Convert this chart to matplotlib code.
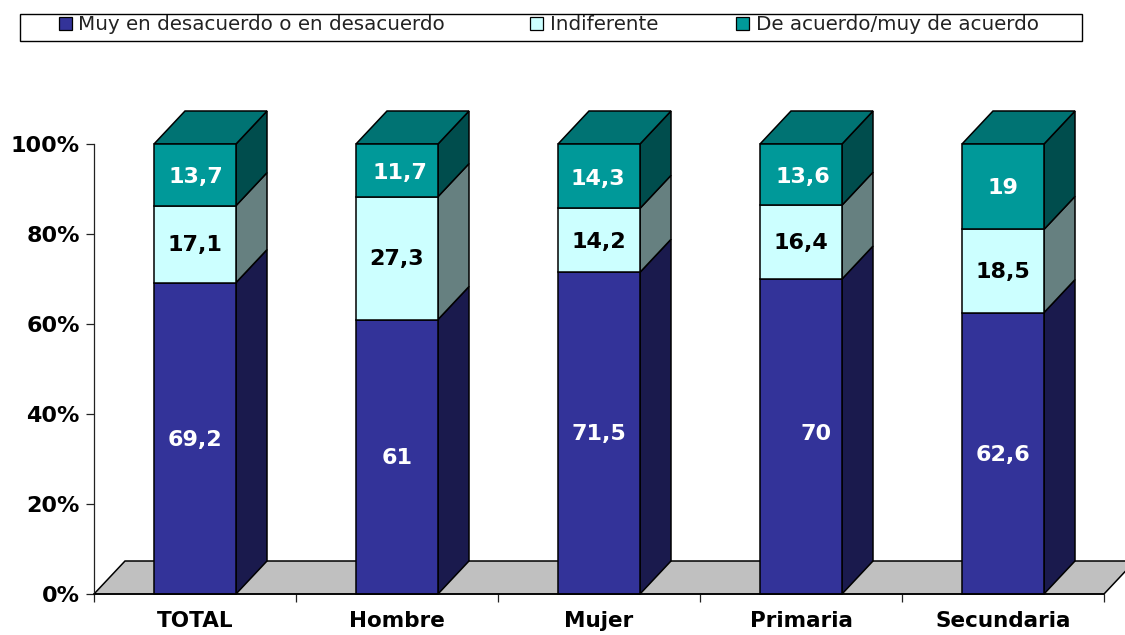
import matplotlib
matplotlib.use("Agg")
import matplotlib.pyplot as plt
from matplotlib.patches import Rectangle, Polygon

categories = ["TOTAL", "Hombre", "Mujer", "Primaria", "Secundaria"]
series_names = ["Muy en desacuerdo o en desacuerdo", "Indiferente", "De acuerdo/muy de acuerdo"]
desacuerdo = [69.2, 61, 71.5, 70, 62.6]
indiferente = [17.1, 27.3, 14.2, 16.4, 18.5]
acuerdo = [13.7, 11.7, 14.3, 13.6, 19]
labels_desacuerdo = ["69,2", "61", "71,5", "70", "62,6"]
labels_indiferente = ["17,1", "27,3", "14,2", "16,4", "18,5"]
labels_acuerdo = ["13,7", "11,7", "14,3", "13,6", "19"]
y_ticks = [0, 20, 40, 60, 80, 100]

W, H = 1125, 635
plt.rcParams["font.family"] = ["DejaVu Sans"]
fig = plt.figure(figsize=(W / 100, H / 100), dpi=100)
ax = fig.add_axes([94 / W, 1 - 594 / H, (1104 - 94) / W, (594 - 144) / H])
ax.set_xlim(0, 5)
ax.set_ylim(0, 100)

DX = 31 / 202
DY = 33 / 4.5
BW = 82 / 202
LW = 1.1
faces = ["#333399", "#CCFFFF", "#009999"]
sides = ["#1A1A4D", "#668080", "#004D4D"]
top_col = "#007373"
text_cols = ["white", "black", "white"]
# hand-placed label nudges (series index, category index) -> pixels right, pixels up
nudges = {(0, 3): (15, 4), (2, 0): (1, -1), (2, 1): (3, -1), (2, 2): (-1, -1), (2, 3): (2, -1)}

ax.add_patch(Polygon([(0, 0), (5, 0), (5 + DX, DY), (DX, DY)], closed=True, facecolor="#C0C0C0",
                     edgecolor="black", lw=LW, clip_on=False, zorder=1))

series = [desacuerdo, indiferente, acuerdo]
texts = [labels_desacuerdo, labels_indiferente, labels_acuerdo]
for i in range(len(categories)):
    total = sum(s[i] for s in series)
    base = 0
    x = i + 0.5
    r = x + BW / 2
    l = x - BW / 2
    for k, s in enumerate(series):
        v = s[i] / total * 100
        ax.add_patch(Polygon([(r, base), (r + DX, base + DY), (r + DX, base + v + DY), (r, base + v)],
                             closed=True, facecolor=sides[k], edgecolor="black", lw=LW,
                             clip_on=False, zorder=2))
        ax.bar(x, v, BW, bottom=base, color=faces[k], edgecolor="black", lw=LW, zorder=3, clip_on=False)
        nx, ny = nudges.get((k, i), (0, 0))
        ax.annotate(texts[k][i], (x, base + v / 2 - 0.3), xytext=(nx * 0.72, ny * 0.72),
                    textcoords="offset points", color=text_cols[k], ha="center", va="center",
                    fontsize=16, fontweight="bold", zorder=4)
        base += v
    ax.add_patch(Polygon([(l, 100), (r, 100), (r + DX, 100 + DY), (l + DX, 100 + DY)], closed=True,
                         facecolor=top_col, edgecolor="black", lw=LW, clip_on=False, zorder=2))

for sp in ["top", "right"]:
    ax.spines[sp].set_visible(False)
ax.spines["left"].set_linewidth(0.9)
ax.spines["left"].set_color("#222222")
ax.spines["bottom"].set_zorder(5)
ax.spines["bottom"].set_linewidth(1.1)
ax.spines["bottom"].set_color("black")

ax.set_yticks(y_ticks)
ax.set_yticklabels([f"{t}%" for t in y_ticks], fontsize=16, fontweight="bold", color="black")
ax.tick_params(axis="y", length=5.8, width=0.9, pad=4.5, color="#222222")
ax.set_xticks(range(len(categories) + 1))
ax.set_xticklabels([])
ax.tick_params(axis="x", which="major", length=5.8, width=0.9, color="#222222")
ax.set_xticks([i + 0.5 for i in range(len(categories))], minor=True)
ax.set_xticklabels(categories, minor=True, fontsize=15.5, fontweight="bold", color="black")
ax.tick_params(axis="x", which="minor", length=0, pad=12.5)

fig.add_artist(Rectangle((20 / W, 1 - 41 / H), (1082 - 20) / W, 27 / H, transform=fig.transFigure,
                         facecolor="white", edgecolor="black", lw=1.0))
leg_hx = [59, 530, 736]
leg_tx = [78, 550, 756]
for name, col, hx, tx in zip(series_names, faces, leg_hx, leg_tx):
    fig.add_artist(Rectangle((hx / W, 1 - 30 / H), 13 / W, 13 / H, transform=fig.transFigure,
                             facecolor=col, edgecolor="black", lw=0.9))
    fig.text(tx / W, 1 - 24.5 / H, name, fontsize=14.3, color="#222222", ha="left", va="center")

fig.savefig("out.png", dpi=100)
